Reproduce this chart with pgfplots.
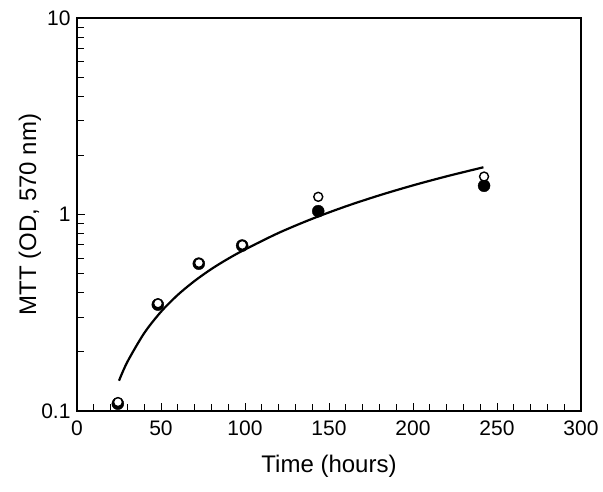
\documentclass[border=0pt]{standalone}
\usepackage{pgfplots}
\pgfplotsset{compat=1.18}
\usepackage{fontspec}
\setmainfont{Liberation Sans}
\begin{document}
\begin{tikzpicture}
\begin{axis}[
  scale only axis,
  width=504pt, height=393pt,
  xmin=0, xmax=300,
  ymode=log, ymin=0.1, ymax=10,
  xtick={0,50,100,150,200,250,300},
  minor x tick num=4,
  ytick={0.1,1,10},
  yticklabels={0.1,1,10},
  xtick pos=bottom, ytick pos=left,
  tick align=inside,
  major tick length=8pt, minor tick length=7pt,
  every tick/.style={black, line width=0.9pt},
  axis line style={line width=2.2pt},
  /pgf/number format/assume math mode=true,
  tick label style={font=\fontsize{21}{24}\selectfont},
  xticklabel style={yshift=-6pt},
  yticklabel style={xshift=-3pt},
  label style={font=\fontsize{24}{28}\selectfont},
  xlabel={Time (hours)},
  ylabel={MTT (OD, 570 nm)},
  xlabel style={at={(rel axis cs:0.5,0)}, anchor=center, yshift=-55pt},
  ylabel style={at={(rel axis cs:0,0.5)}, anchor=center, yshift=47pt},
  clip=false,
]
\addplot[black, line width=2.2pt, smooth] coordinates {
 (25,0.1426) (30,0.178) (40,0.249) (50,0.320) (60,0.390) (70,0.459)
 (80,0.528) (90,0.596) (100,0.664) (120,0.806) (140,0.951) (160,1.100)
 (180,1.252) (200,1.407) (220,1.564) (241.9,1.739)
};
\addplot[only marks, mark=*, mark size=6pt, black] coordinates {
 (24.3,0.109) (48.1,0.348) (72.5,0.562) (98.3,0.695) (143.6,1.04) (242.3,1.40)
};
\addplot[only marks, mark=*, mark size=4.5pt, draw=black, fill=white, line width=1.4pt] coordinates {
 (24.4,0.111) (48.2,0.353) (72.6,0.567) (98.4,0.70) (143.6,1.23) (242.3,1.56)
};
\end{axis}
\pgfresetboundingbox
\path[use as bounding box] (-77pt,-80pt) rectangle (526pt,411pt);
\end{tikzpicture}
\end{document}
